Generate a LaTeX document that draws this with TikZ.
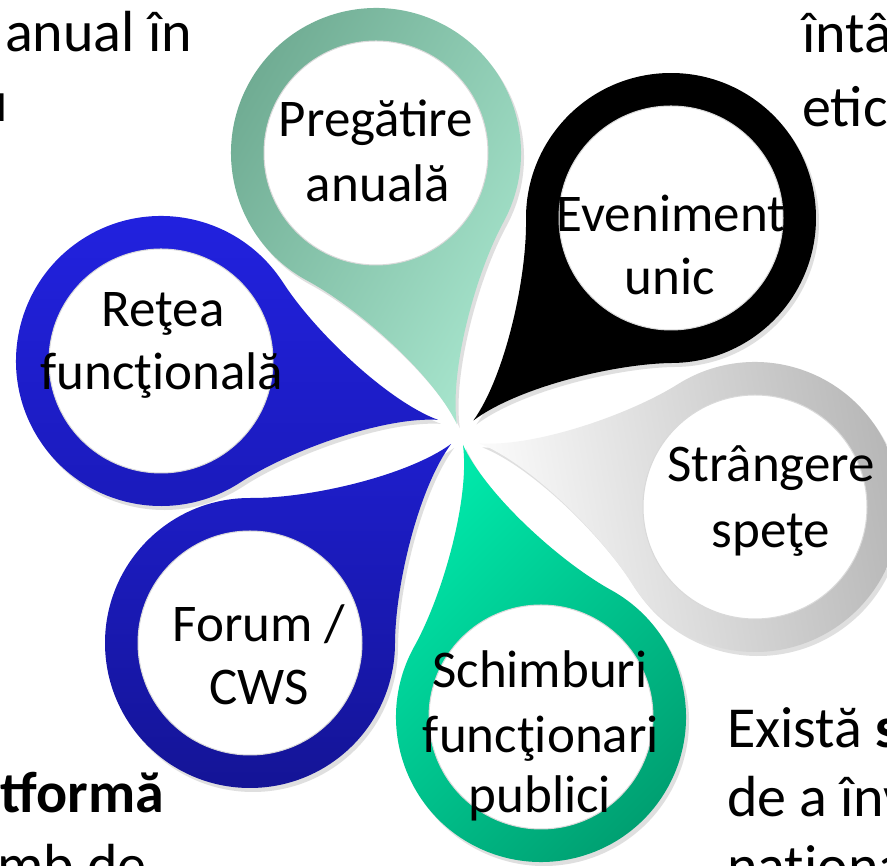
\documentclass[tikz,border=0pt]{standalone}
\usepackage{fontspec}
\setmainfont{Carlito}
\usetikzlibrary{calc,shadows}
\definecolor{pgA}{RGB}{110,170,145}
\definecolor{pgB}{RGB}{168,230,206}
\definecolor{grA}{RGB}{252,252,252}
\definecolor{grB}{RGB}{180,180,180}
\definecolor{tlA}{RGB}{0,232,170}
\definecolor{tlB}{RGB}{0,158,112}
\definecolor{fbA}{RGB}{30,30,205}
\definecolor{fbB}{RGB}{20,20,150}
\definecolor{rbA}{RGB}{34,34,225}
\definecolor{rbB}{RGB}{26,26,185}
% pin: #1 = centre coordinate, #2 = direction (degrees) from centre to tip
\newcommand\pinshape[2]{($(#1)+(#2:283)$) .. controls ($(#1)+(#2-2:230.1)$) and ($(#1)+(#2-22.5:156.9)$) .. ($(#1)+(#2-45:145)$) arc[start angle=#2-45, end angle=#2-315, radius=145] .. controls ($(#1)+(#2+22.5:156.9)$) and ($(#1)+(#2+2:230.1)$) .. cycle}
\tikzset{
  pinbody/.style={drop shadow={opacity=0.25,shadow xshift=3pt,shadow yshift=-4pt}},
  innerhole/.style={fill=white, draw=white!85!black, line width=1pt},
  lbl/.style={font=\fontsize{53}{63}\selectfont, inner sep=0pt, anchor=base},
  bgtext/.style={font=\fontsize{58}{70}\selectfont, inner sep=0pt},
}
\begin{document}
\begin{tikzpicture}[x=1pt,y=1pt]
\useasboundingbox (0,0) rectangle (887,866);
\clip (0,0) rectangle (887,866);
\fill[white] (0,0) rectangle (887,866);
% background text fragments
\node[bgtext, anchor=base west] (t1) at (5,814) {anual în};
\node[bgtext, anchor=base east] (t2) at (8,744) {u};
\node[bgtext, anchor=base west] (t3) at (802,813) {întâlnire};
\node[bgtext, anchor=base west] (t4) at (802,739) {etică};
\node[bgtext, anchor=base east] (t5) at (164,53) {\bfseries platformă};
\node[bgtext, anchor=base east] (t6) at (147,-19) {schimb de};
\node[bgtext, anchor=base west] (t7) at (727,118) {Există \textbf{s}};
\node[bgtext, anchor=base west] (t8) at (727,49) {de a înv};
\node[bgtext, anchor=base west] (t9) at (727,-20) {naţional};
% centres
\coordinate (c1) at (376,713);
\coordinate (c2) at (671,648);
\coordinate (c3) at (755,359);
\coordinate (c4) at (541,149);
\coordinate (c5) at (250,223);
\coordinate (c6) at (161,505);
% pins
\shade[pinbody, left color=pgA, right color=pgB, shading angle=60] \pinshape{c1}{-73.4};
\fill[pinbody, black] \pinshape{c2}{-134.3};
\shade[pinbody, left color=grA, right color=grB, shading angle=100] \pinshape{c3}{167.0};
\shade[pinbody, left color=tlA, right color=tlB, shading angle=45] \pinshape{c4}{106.0};
\shade[pinbody, top color=fbA, bottom color=fbB] \pinshape{c5}{44.7};
\shade[pinbody, top color=rbA, bottom color=rbB] \pinshape{c6}{-12.0};
% holes
\foreach \c in {c1,c2,c3,c4,c5,c6} \fill[innerhole] (\c) circle[radius=112];
% labels
\node[lbl] (l1a) at (376,729) {Pregătire};
\node[lbl] (l1b) at (378,664) {anuală};
\node[lbl] (l2a) at (671,634) {Eveniment};
\node[lbl] (l2b) at (670,571) {unic};
\node[lbl] (l3a) at (771,384) {Strângere};
\node[lbl] (l3b) at (771,318) {speţe};
\node[lbl] (l4a) at (540,178) {Schimburi};
\node[lbl] (l4b) at (541,113) {funcţionari};
\node[lbl] (l4c) at (540,53) {publici};
\node[lbl] (l5a) at (259,224) {Forum /};
\node[lbl] (l5b) at (259,161) {CWS};
\node[lbl] (l6a) at (163,539) {Reţea};
\node[lbl] (l6b) at (162,476) {funcţională};
\end{tikzpicture}
\end{document}
